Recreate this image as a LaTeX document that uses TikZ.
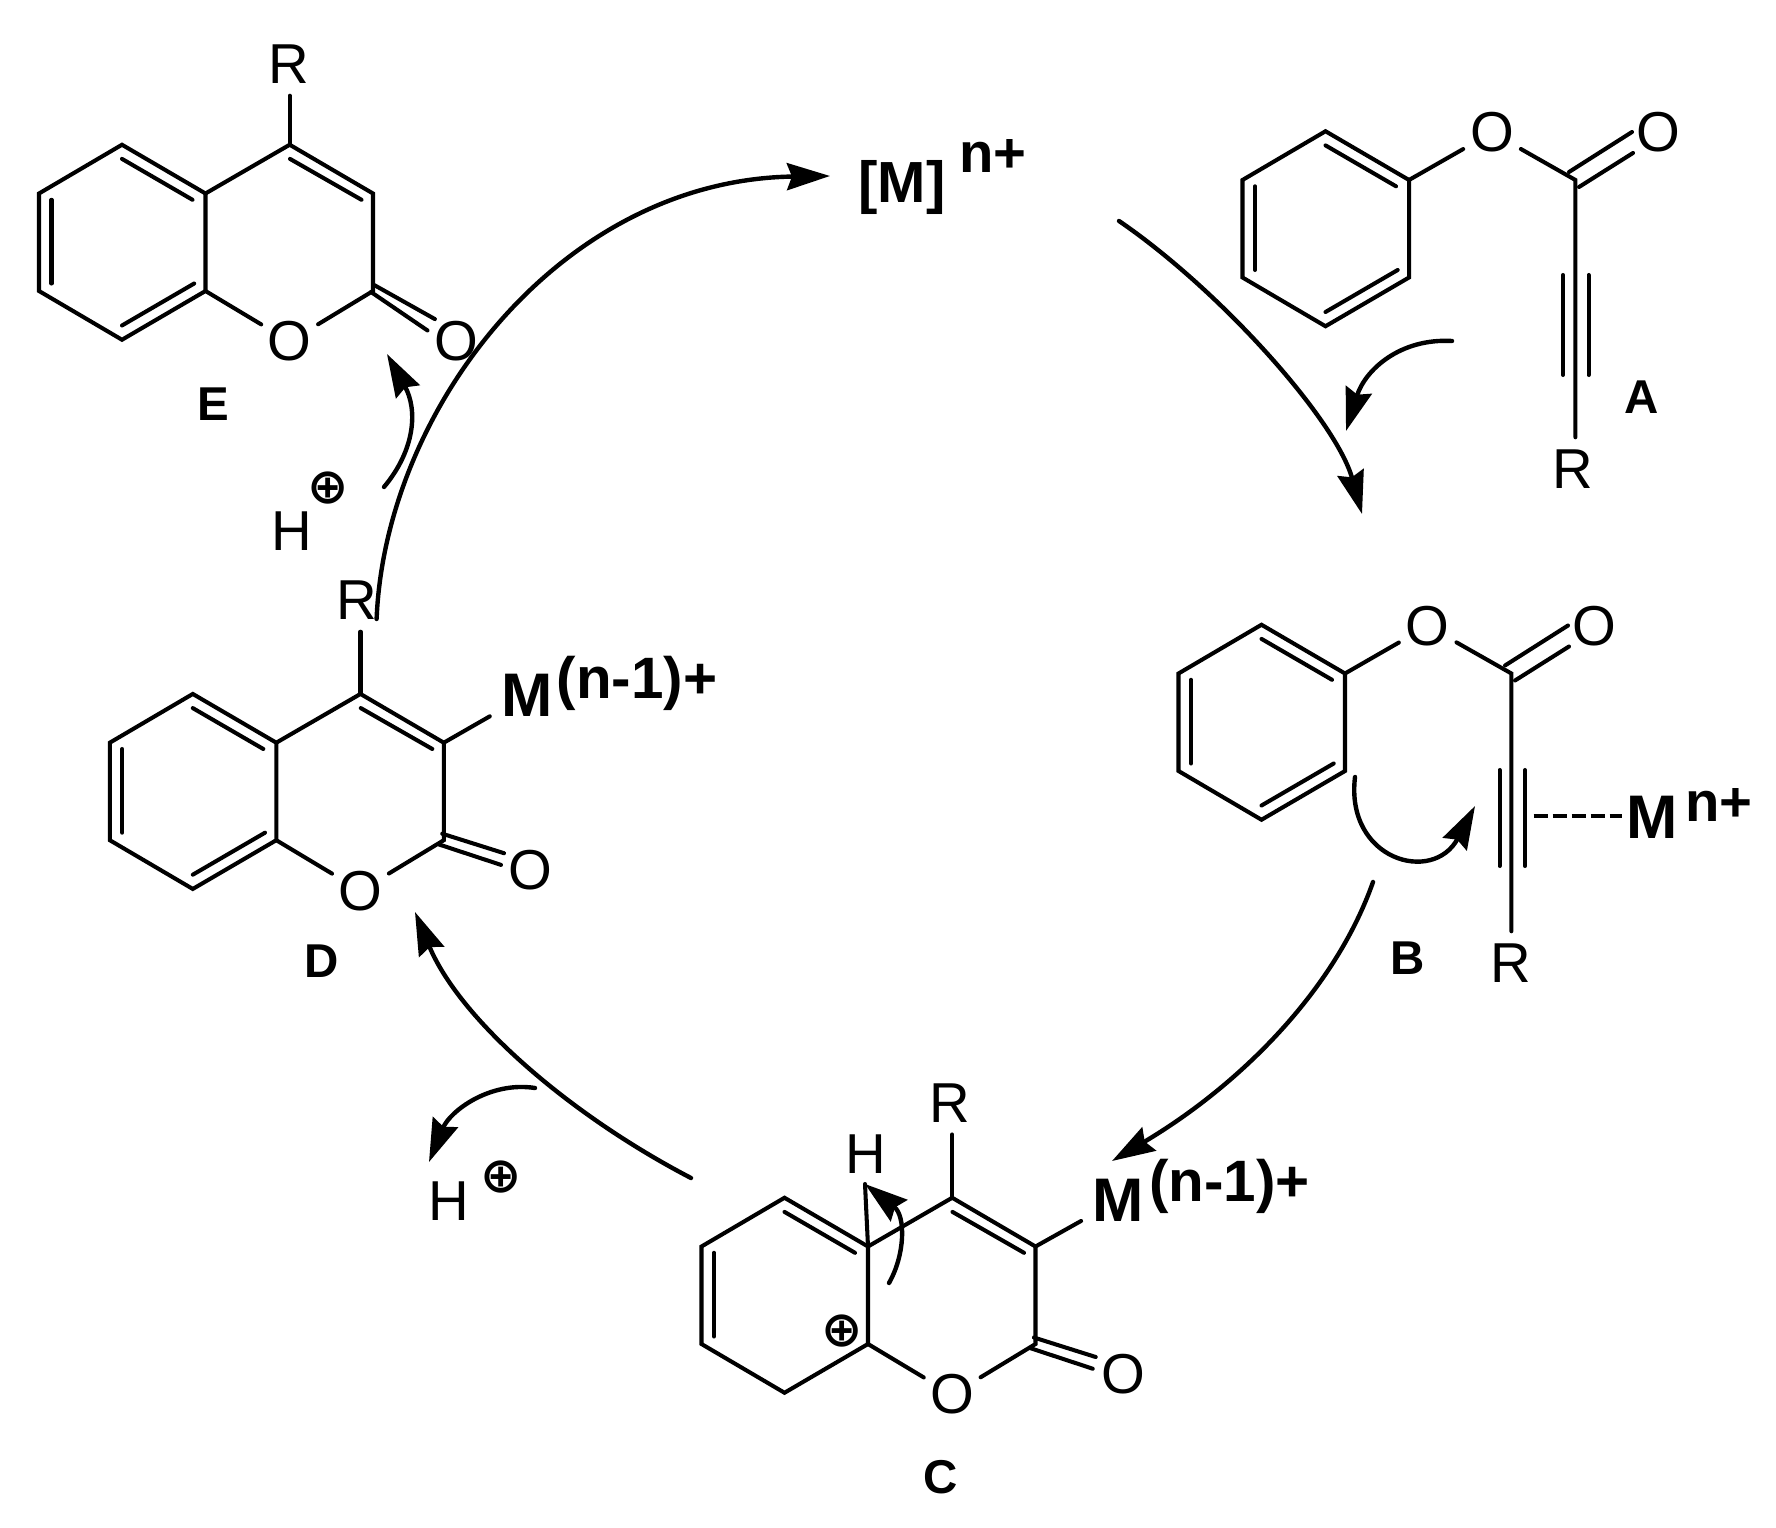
\documentclass[tikz,border=0pt]{standalone}
\usepackage{fontspec}
\setmainfont{Liberation Sans}
\newfontfamily\symbfont{DejaVu Sans}
\usetikzlibrary{arrows.meta}

\tikzset{
    bond/.style={line width=1.15pt,line cap=round,line join=miter},
    curly/.style={line width=1.25pt,line cap=round,-{Stealth[length=0.43cm,width=0.27cm,inset=0.05cm]}},
    atom/.style={circle,inner sep=0.6pt,font=\fontsize{16}{18}\selectfont},
    metal/.style={circle,inner sep=1.8pt,font=\fontsize{17.5}{19}\selectfont\bfseries},
    charge/.style={inner sep=0pt,font=\fontsize{16}{18}\selectfont\bfseries},
    tag/.style={inner sep=0pt,font=\fontsize{13.5}{15}\selectfont\bfseries},
    plus/.style={inner sep=0pt,font=\fontsize{14}{16}\symbfont\bfseries},
}

\newcommand{\phring}[1]{%
    \coordinate (#1f) at (0,0);
    \coordinate (#1a) at (-83.5,-48.75);
    \coordinate (#1b) at (-166.5,0);
    \coordinate (#1c) at (-166.5,97.5);
    \coordinate (#1d) at (-83.5,146.25);
    \coordinate (#1e) at (0,97.5);
    \draw [bond] (#1f) -- (#1a) -- (#1b) -- (#1c) -- (#1d) -- (#1e) -- cycle;
    \draw [bond] (-83.5,-34.6) -- (-13,6.3);
    \draw [bond] (-154,6.3) -- (-154,90);
}
\newcommand{\lowerdouble}{\draw [bond] (-83.5,132) -- (-11.3,90);}
\newcommand{\pyran}[1]{%
    \coordinate (#1g) at (84.2,-48.75);
    \coordinate (#1h) at (167.5,0);
    \coordinate (#1k) at (167.5,97.5);
    \node [atom] (#1o) at (84.2,148) {O};
    \draw [bond] (#1f) -- (#1g) -- (#1h) -- (#1k) -- (#1o) -- (#1e);
    \draw [bond] (84.5,-34.6) -- (156,6.3);
}

\begin{document}
\begin{tikzpicture}[x=0.01cm,y=-0.01cm]
    \useasboundingbox (0,0) rectangle (1776,1528);

    % E
    \begin{scope}[shift={(205.5,193.5)}]
        \phring{E}
        \lowerdouble
        \pyran{E}
        \draw [bond] (168.8,91.6) -- (229.4,125.6);
        \draw [bond] (165.5,98.5) -- (222,137);
    \end{scope}
    \node [atom] (Er) at (289,64) {R};
    \node [atom] (Eco) at (456.4,341) {O};
    \draw [bond] (Eg) -- (Eg |- Er.south);
    \node [tag] (Etag) at (213,404.5) {E};

    % [M]
    \node [charge,font=\fontsize{16.5}{19}\selectfont\bfseries] (Mbr) at (902,188) {[M]};
    \node [charge] (Mch) at (992.8,156) {n+};

    % A
    \begin{scope}[shift={(1409,180)}]
        \phring{A}
        \lowerdouble
    \end{scope}
    \node [atom] (Ao) at (1492,132.6) {O};
    \node [atom] (Aco) at (1658,132.6) {O};
    \node [atom] (Ar) at (1573,469) {R};
    \coordinate (Ac) at (1575.4,180);
    \draw [bond] (Af) -- (Ao) -- (Ac) -- (Ac |- Ar.north);
    \draw [bond] (1569,172) -- (1632,132);
    \draw [bond] (1579,187) -- (1633,153);
    \draw [bond] (1563,275) -- (1563,375);
    \draw [bond] (1588.5,275) -- (1588.5,375);
    \node [tag] (Atag) at (1642,397) {A};

    % B
    \begin{scope}[shift={(1345,673.5)}]
        \phring{B}
        \lowerdouble
    \end{scope}
    \node [atom] (Bo) at (1427.6,626) {O};
    \node [atom] (Bco) at (1594,626) {O};
    \node [atom] (Br) at (1511,963) {R};
    \coordinate (Bc) at (1511.4,673.5);
    \draw [bond] (Bf) -- (Bo) -- (Bc) -- (Bc |- Br.north);
    \draw [bond] (1505,665.5) -- (1568,625.5);
    \draw [bond] (1515,680.5) -- (1569,646.5);
    \draw [bond] (1499.5,770) -- (1499.5,866);
    \draw [bond] (1525,770) -- (1525,866);
    \node [metal] (Bm) at (1652,817) {M};
    \node [charge] (Bch) at (1719,805) {n+};
    \coordinate (Bdash) at (1533.5,816);
    \coordinate (Bdashend) at (1622,816);
    \draw [bond,line cap=butt,dash pattern=on 0.14cm off 0.05cm] (Bdash) -- (Bdashend);
    \node [tag] (Btag) at (1407.8,958) {B};

    % C
    \begin{scope}[shift={(868,1246.5)}]
        \phring{C}
        \pyran{C}
        \draw [bond] (165.9,91) -- (227.7,110.5);
        \draw [bond] (162.5,101.7) -- (224.7,122.2);
    \end{scope}
    \node [atom] (Cco) at (1123,1374) {O};
    \node [atom] (Cr) at (950.3,1102.7) {R};
    \node [atom] (Chyd) at (866,1154) {H};
    \node [metal] (Cm) at (1118.5,1200) {M};
    \node [charge,font=\fontsize{16.6}{18}\selectfont\bfseries] (Cch) at (1229.5,1186.5) {(n-1)+};
    \node [plus] (Cplus) at (842,1330.8) {⊕};
    \draw [bond] (Cg) -- (Cg |- Cr.south);
    \draw [bond] (Ch) -- (Cm);
    \node [tag] (Ctag) at (940.7,1477) {C};

    % D
    \begin{scope}[shift={(276.3,742.7)}]
        \phring{D}
        \lowerdouble
        \pyran{D}
        \draw [bond] (165.9,91) -- (227.7,110.5);
        \draw [bond] (162.5,101.7) -- (224.7,122.2);
    \end{scope}
    \node [atom] (Dco) at (530,869.7) {O};
    \node [atom] (Dr) at (356.7,600) {R};
    \node [metal] (Dm) at (527,695) {M};
    \node [charge,font=\fontsize{16.6}{18}\selectfont\bfseries] (Dch) at (637,683) {(n-1)+};
    \draw [bond] (Dg) -- (Dg |- Dr.south);
    \draw [bond] (Dh) -- (Dm);
    \node [tag] (Dtag) at (321.6,961) {D};

    % protons
    \node [atom] (Hup) at (291.6,531) {H};
    \node [plus] (Hupplus) at (328.4,488.3) {⊕};
    \node [atom] (Hlow) at (449,1201) {H};
    \node [plus] (Hlowplus) at (501,1177) {⊕};

    % cycle arrows
    \coordinate (arcEs) at (376.6,619);
    \coordinate (arcEe) at (830,176);
    \draw [curly] (arcEs) .. controls (385,410) and (560,180) .. (arcEe);
    \coordinate (arcAs) at (1119,221);
    \coordinate (arcAe) at (1362,514);
    \draw [curly] (arcAs) .. controls (1220,290) and (1336,420) .. (arcAe);
    \coordinate (arcBs) at (1373,882);
    \coordinate (arcBe) at (1112,1161);
    \draw [curly] (arcBs) .. controls (1335,990) and (1240,1085) .. (arcBe);
    \coordinate (arcCs) at (691,1178);
    \coordinate (arcCe) at (415,912);
    \draw [curly] (arcCs) .. controls (570,1115) and (460,1020) .. (arcCe);

    % small arrows
    \coordinate (inAs) at (1452,341);
    \coordinate (inAe) at (1346,431);
    \draw [curly] (inAs) .. controls (1400,338) and (1365,370) .. (inAe);
    \coordinate (outEs) at (384,487);
    \coordinate (outEe) at (387,354);
    \draw [curly] (outEs) .. controls (415,450) and (418,410) .. (outEe);
    \coordinate (outDs) at (535,1088);
    \coordinate (outDe) at (429,1162);
    \draw [curly] (outDs) .. controls (490,1081) and (450,1111) .. (outDe);
    \coordinate (ringBs) at (1355,777);
    \coordinate (ringBe) at (1475,806);
    \draw [curly] (ringBs) .. controls (1345,860) and (1433,885) .. (ringBe);
    \coordinate (ringCs) at (889,1283);
    \coordinate (ringCe) at (865,1184);
    \draw [curly] (ringCs) .. controls (905,1255) and (906,1216) .. (ringCe);
    \draw [bond] (Cf) -- (ringCe);
\end{tikzpicture}
\end{document}
